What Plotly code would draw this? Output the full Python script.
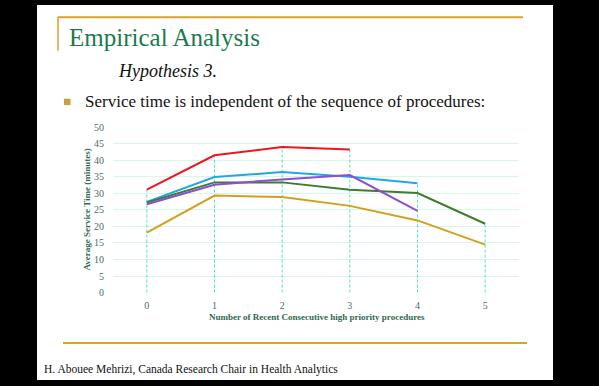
import plotly.graph_objects as go

W, H = 599, 386

categories = ["0", "1", "2", "3", "4", "5"]
red_series = [31.1, 41.5, 44.0, 43.2, None, None]
blue_series = [27.4, 34.9, 36.4, 35.0, 33.0, None]
green_series = [27.2, 33.3, 33.3, 31.1, 30.1, 20.8]
purple_series = [26.7, 32.6, 34.2, 35.5, 24.7, None]
gold_series = [18.1, 29.3, 28.9, 26.2, 21.8, 14.5]
y_ticks = [0, 5, 10, 15, 20, 25, 30, 35, 40, 45, 50]

series = [
    ("s1", red_series, "#f0141e"),
    ("s2", blue_series, "#1fa8e6"),
    ("s3", green_series, "#3e7d2e"),
    ("s4", purple_series, "#8c4fd0"),
    ("s5", gold_series, "#d2a01c"),
]

def px_x(p):
    return p / W

def px_y(p):
    return 1 - p / H

fig = go.Figure()

# drop lines from max value of each category down to zero
drop_x, drop_y = [], []
for i, c in enumerate(categories):
    vals = [s[1][i] for s in series if s[1][i] is not None]
    if vals:
        drop_x += [c, c, None]
        drop_y += [0, max(vals), None]
fig.add_trace(go.Scatter(x=drop_x, y=drop_y, mode="lines",
                         line=dict(color="#4ee6b4", width=1, dash="3px,2px"),
                         showlegend=False, hoverinfo="skip"))

for name, vals, col in series:
    fig.add_trace(go.Scatter(x=categories, y=vals, mode="lines", name=name,
                             line=dict(color=col, width=2), showlegend=False))

serif = "Liberation Serif, Times New Roman, serif"
tick_font = dict(family=serif, size=10, color="#4d6b6b")
fig.update_layout(
    width=W, height=H,
    margin=dict(l=0, r=0, t=0, b=0),
    paper_bgcolor="#000000",
    plot_bgcolor="rgba(0,0,0,0)",
    showlegend=False,
    xaxis=dict(domain=[px_x(113), px_x(519)], type="category",
               range=[-0.5, 5.5], showgrid=False, zeroline=False,
               showline=False, ticks="outside", ticklen=3,
               tickcolor="rgba(0,0,0,0)", tickfont=tick_font,
               categoryorder="array", categoryarray=categories),
    yaxis=dict(domain=[px_y(296), px_y(125.7)], range=[0, 50],
               tickvals=y_ticks, showgrid=True, gridcolor="#d6f6ea",
               gridwidth=1, zeroline=False, showline=False,
               ticks="outside", ticklen=6, tickcolor="rgba(0,0,0,0)",
               tickfont=tick_font),
)

shapes = [
    dict(type="rect", xref="paper", yref="paper", x0=px_x(37), x1=px_x(553),
         y0=0, y1=1, fillcolor="white", line=dict(width=0), layer="below"),
    dict(type="line", xref="paper", yref="paper", x0=px_x(58), x1=px_x(523),
         y0=px_y(12.5), y1=px_y(12.5), line=dict(color="#d4a52a", width=2)),
    dict(type="line", xref="paper", yref="paper", x0=px_x(58), x1=px_x(58),
         y0=px_y(12), y1=px_y(47), line=dict(color="#d4a52a", width=1.5)),
    dict(type="line", xref="paper", yref="paper", x0=px_x(63), x1=px_x(527),
         y0=px_y(348), y1=px_y(348), line=dict(color="#d4a52a", width=2)),
    dict(type="rect", xref="paper", yref="paper", x0=px_x(64), x1=px_x(70.5),
         y0=px_y(103), y1=px_y(96.5), fillcolor="#c9a13a", line=dict(width=0)),
]
fig.update_layout(shapes=shapes)

ann = [
    dict(text="Empirical Analysis", x=px_x(67), y=px_y(33), xanchor="left",
         yanchor="middle", font=dict(family=serif, size=25, color="#1b7a4c")),
    dict(text="<i>Hypothesis 3.</i>", x=px_x(116), y=px_y(68), xanchor="left",
         yanchor="middle", font=dict(family=serif, size=18, color="#111111")),
    dict(text="Service time is independent of the sequence of procedures:",
         x=px_x(83), y=px_y(99), xanchor="left", yanchor="middle",
         font=dict(family=serif, size=17, color="#111111")),
    dict(text="H. Abouee Mehrizi, Canada Research Chair in Health Analytics",
         x=px_x(42), y=px_y(375.5), xanchor="left", yanchor="middle",
         font=dict(family=serif, size=11.5, color="#111111")),
    dict(text="<b>Number of Recent Consecutive high priority procedures</b>",
         x=px_x(317), y=px_y(321), xanchor="center", yanchor="middle",
         font=dict(family=serif, size=9, color="#2d6a50")),
    dict(text="<b>Average Service Time (minutes)</b>", x=px_x(86.5),
         y=px_y(211), xanchor="center", yanchor="middle", textangle=-90,
         font=dict(family=serif, size=9, color="#2d6a50")),
]
for a in ann:
    a.update(xref="paper", yref="paper", showarrow=False)
fig.update_layout(annotations=ann)

fig.write_html(
    "out.html",
    config={"displayModeBar": False},
    post_script="document.body.style.margin='0';document.body.style.overflow='hidden';",
)
